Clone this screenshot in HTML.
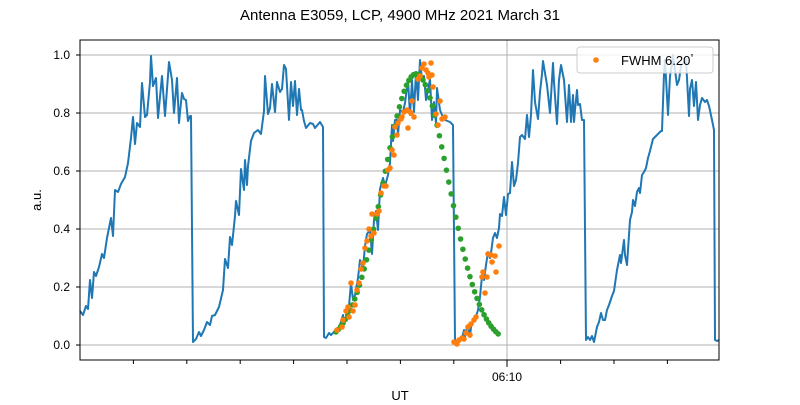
<!DOCTYPE html><html><head><style>body{margin:0;background:#fff}svg{font-family:"Liberation Sans","DejaVu Sans",sans-serif}</style></head><body>
<svg id="s" width="800" height="400" xmlns="http://www.w3.org/2000/svg">
<rect width="800" height="400" fill="#fff"/>
<text x="400" y="20" font-size="15" text-anchor="middle">Antenna E3059, LCP, 4900 MHz 2021 March 31</text>
<g stroke="#b0b0b0" stroke-width="1">
<line x1="80" x2="719" y1="345" y2="345"/><line x1="80" x2="719" y1="287" y2="287"/><line x1="80" x2="719" y1="229" y2="229"/><line x1="80" x2="719" y1="171" y2="171"/><line x1="80" x2="719" y1="113" y2="113"/><line x1="80" x2="719" y1="55" y2="55"/><line x1="507" x2="507" y1="40" y2="360"/>
</g>
<g font-size="12" text-anchor="end"><text x="70" y="349">0.0</text><text x="70" y="291">0.2</text><text x="70" y="233">0.4</text><text x="70" y="175">0.6</text><text x="70" y="117">0.8</text><text x="70" y="59">1.0</text></g>
<g stroke="#000" stroke-width="1"><line x1="76" x2="80" y1="345" y2="345"/><line x1="76" x2="80" y1="287" y2="287"/><line x1="76" x2="80" y1="229" y2="229"/><line x1="76" x2="80" y1="171" y2="171"/><line x1="76" x2="80" y1="113" y2="113"/><line x1="76" x2="80" y1="55" y2="55"/>
<line x1="507" x2="507" y1="360" y2="367"/></g>
<g id="mt" stroke="#000"></g>
<text x="507" y="381" font-size="12" text-anchor="middle">06:10</text>
<text x="400" y="400" font-size="13" text-anchor="middle">UT</text>
<text transform="translate(41,200) rotate(-90)" font-size="13" text-anchor="middle">a.u.</text>
<polyline fill="none" stroke="#1f77b4" stroke-width="2" stroke-linejoin="round" points="80,311 83,315 86,306 88,309 90,280 92,298 94,272 96,276 99,267 102,254 104,258 107,238 111,218 113,236 115,190 118,192 121,184 125,177 128,163 131,138 133,117 135,144 137,123 140,127 142,83 145,117 147,115 150,82 151,56 153,86 156,78 158,118 162,76 165,116 169,62 172,80 174,113 177,78 179,123 180,112 182,93 184,99 186,100 188,121 190,116 191,116 193,342 196,339 199,332 201,336 204,330 207,322 210,325 212,316 215,315 219,307 223,290 225,259 228,268 230,237 232,245 235,216 236,201 239,215 241,169 244,190 245,160 247,185 248,166 251,141 254,133 258,130 261,134 264,111 265,76 268,114 270,108 272,84 275,112 277,82 280,92 282,89 284,65 286,69 289,120 291,82 293,106 295,81 297,115 299,89 301,110 302,110 304,121 306,128 310,123 313,124 315,128 320,122 323,127 324,337 326,338 329,333 331,335 334,332 337,330 340,325 343,315 344,323 347,315 349,306 351,283 353,300 355,295 358,278 360,260 363,268 365,246 367,234 370,230 372,254 374,220 376,211 378,230 380,189 383,178 385,186 388,175 390,163 392,125 393,141 395,120 397,120 398,135 400,110 403,112 405,103 408,80 410,115 412,80 414,112 416,72 418,100 420,60 422,80 424,76 426,100 428,90 430,79 432,120 434,102 436,123 437,88 440,110 442,115 445,120 450,122 453,125 455,340 458,343 460,340 462,338 464,330 465,337 466,331 468,325 470,337 471,327 473,322 475,320 478,310 480,297 482,276 484,280 486,265 488,252 490,258 491,253 493,238 495,233 497,238 499,228 500,214 502,216 504,197 506,215 508,194 510,193 512,162 514,186 516,180 518,163 520,137 522,135 525,139 527,115 529,137 531,115 533,70 535,102 538,119 540,92 542,74 543,61 547,85 550,113 553,63 554,82 557,124 559,80 561,65 564,80 567,122 569,85 571,122 573,95 574,122 575,110 577,90 578,105 580,104 582,120 584,120 586,340 588,337 590,340 592,336 594,342 597,327 599,322 601,313 603,320 605,320 607,310 609,305 612,296 614,291 617,270 620,255 621,263 624,240 625,255 627,265 630,220 632,212 633,200 635,206 637,192 639,188 640,193 642,175 644,172 646,168 648,158 650,151 653,139 655,137 658,134 661,131 662,131 664,74 665,60 668,115 670,76 672,64 673,55 677,85 679,80 681,66 684,62 686,59 689,116 690,89 692,80 694,106 696,82 698,120 700,105 702,98 705,102 707,100 709,106 712,120 714,130 715,340 717,341 719,340"/>
<g id="gr" fill="#2ca02c"></g>
<g id="or" fill="#ff7f0e"></g>
<rect x="80" y="40" width="639" height="320" fill="none" stroke="#000" stroke-width="1"/>
<rect x="577" y="47" width="136" height="26" rx="3" fill="#fff" fill-opacity="0.8" stroke="#ccc"/>
<circle cx="596" cy="60" r="2.8" fill="#ff7f0e"/>
<text x="621" y="65" font-size="13">FWHM 6.20<tspan font-size="8" dy="-5">°</tspan></text>
</svg>
<script>
var ns="http://www.w3.org/2000/svg";
function c(g,x,y){var e=document.createElementNS(ns,"circle");e.setAttribute("cx",x);e.setAttribute("cy",y);e.setAttribute("r",2.8);document.getElementById(g).appendChild(e);}
for(var x=336;x<=499;x+=2.35){c("gr",x,345-290*0.935*Math.exp(-Math.pow(x-416,2)/(2*32.5*32.5)));}
var o=[337,330,342,327,343,320,346,311,348,307,349,317,351,283,353,311,355,305,357,290,359,283,361,269,363,263,365,248,367,241,369,229,371,236,372,214,374,233,377,214,379,211,381,193,384,186,386,186,388,170,390,168,392,150,394,155,395,127,397,135,398,123,401,119,402,117,404,112,407,110,408,128,410,112,411,113,412,101,414,117,418,79,420,76,422,68,424,64,426,70,428,73,429,77,431,63,432,75,433,87,436,114,438,125,440,101,442,119,444,118,445,117,454,342,457,344,459,340,462,338,464,339,466,333,468,327,470,335,471,324,474,320,476,317,482,277,483,272,485,293,487,277,488,254,491,255,492,262,495,256,496,272,499,246];
for(var i=0;i<o.length;i+=2)c("or",o[i],o[i+1]);
for(var k=1;k<12;k++){var x=80+k*53.4;if(Math.abs(x-507)<2)continue;var l=document.createElementNS(ns,"line");l.setAttribute("x1",x);l.setAttribute("x2",x);l.setAttribute("y1",360);l.setAttribute("y2",364);document.getElementById("mt").appendChild(l);}
</script>
</body></html>
